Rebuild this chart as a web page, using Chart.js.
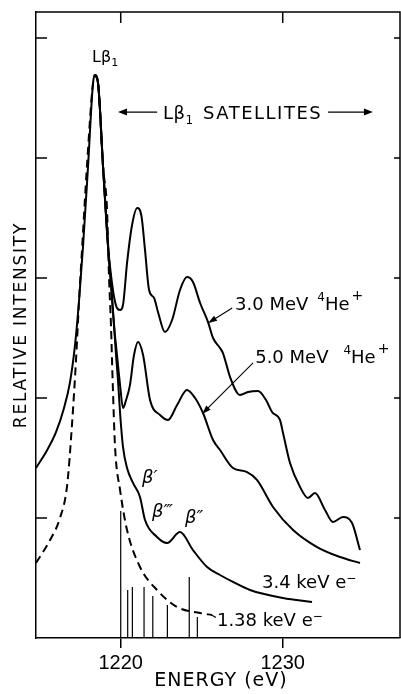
<!DOCTYPE html>
<html><head><meta charset="utf-8">
<script src="https://cdn.jsdelivr.net/npm/chart.js@4.4.1/dist/chart.umd.min.js"></script>
<style>html,body{margin:0;padding:0;background:#fff}</style>
</head><body>
<canvas id="c" width="401" height="694"></canvas>
<script>
// ---- data (energy in eV, relative intensity in arbitrary units) ----
const xTickValues = [1220, 1230];
const yTickValues = [1, 2, 3, 4, 5];

const he3Energy = [1214.77,1215.39,1216.01,1216.50,1216.87,1217.18,1217.43,1217.67,1217.98,1218.29,1218.41,1218.60,1218.91,1219.22,1219.40,1219.59,1219.77,1219.96,1220.14,1220.39,1220.70,1221.02,1221.28,1221.50,1221.75,1222.06,1222.30,1222.73,1223.17,1223.66,1224.09,1224.46,1224.90,1225.39,1225.70,1226.13,1226.31,1226.75,1227.36,1227.86,1228.48,1228.97,1229.34,1229.83,1230.02,1230.45,1231.07,1231.56,1231.99,1232.61,1233.10,1233.72,1234.28,1234.77];
const he3Intensity = [1.417,1.55,1.717,1.917,2.133,2.442,2.817,3.258,3.925,4.625,4.692,4.625,3.925,3.258,3.025,2.842,2.75,2.733,2.775,3.125,3.442,3.583,3.517,3.233,2.9,2.833,2.717,2.55,2.65,2.9,3.008,2.967,2.792,2.633,2.5,2.417,2.375,2.175,2.025,2.05,2.058,1.983,1.883,1.817,1.708,1.458,1.258,1.167,1.208,1.067,0.967,1.008,0.958,0.733];

const he5Energy = [1218.41,1218.60,1218.91,1219.22,1219.40,1219.59,1219.77,1219.96,1220.14,1220.33,1220.57,1220.82,1221.07,1221.38,1221.81,1222.43,1222.92,1223.48,1224.09,1224.59,1225.08,1225.70,1226.13,1226.93,1227.80,1228.41,1229.40,1230.64,1232.12,1233.54,1234.77];
const he5Intensity = [4.692,4.625,3.925,3.258,2.95,2.6,2.358,2.108,1.917,1.983,2.108,2.358,2.467,2.358,1.983,1.858,1.817,1.942,2.067,2.0,1.875,1.65,1.567,1.417,1.383,1.317,1.092,0.9,0.758,0.675,0.625];

const e34Energy = [1218.41,1218.60,1218.91,1219.22,1219.40,1219.59,1219.71,1219.83,1219.96,1220.14,1220.39,1220.76,1221.19,1221.50,1222.24,1222.86,1223.66,1224.46,1225.33,1226.13,1226.93,1227.98,1230.02,1231.81];
const e34Intensity = [4.692,4.625,3.925,3.258,2.95,2.6,2.358,2.15,1.875,1.592,1.417,1.292,1.175,0.983,0.842,0.792,0.883,0.733,0.592,0.525,0.467,0.4,0.333,0.3];

const e138Energy = [1214.77,1215.64,1216.25,1216.69,1216.99,1217.24,1217.43,1217.61,1217.90,1218.29,1218.41,1218.60,1218.91,1219.15,1219.28,1219.40,1219.50,1219.65,1219.96,1220.39,1221.19,1222.24,1223.48,1224.90,1225.64];
const e138Intensity = [0.625,0.817,1.0,1.27,1.775,2.317,2.817,3.233,3.9,4.625,4.692,4.625,3.925,3.583,3.0,2.6,2.15,1.592,1.233,0.9,0.592,0.4,0.258,0.208,0.192];

const lineEnergy = [1220.0,1220.43,1220.72,1221.44,1221.98,1222.88,1224.23,1224.73];
const lineIntensity = [1.058,0.4,0.425,0.425,0.35,0.275,0.508,0.175];

// ---- build datasets ----
const zip = (xs, ys) => xs.map((x, i) => ({x, y: ys[i]}));
const sticks = [];
lineEnergy.forEach((e, i) => { sticks.push({x:e, y:0}, {x:e, y:lineIntensity[i]}, {x:e, y:null}); });

const curve = (data, dash) => ({
  data, borderColor:'#000', borderWidth:2, pointRadius:0, fill:false,
  cubicInterpolationMode:'monotone', borderDash: dash || [], spanGaps:false
});

const FONT = '"DejaVu Sans", sans-serif';

function arrow(ctx, x0, y0, x1, y1, len, half) {
  const a = Math.atan2(y1 - y0, x1 - x0);
  ctx.beginPath(); ctx.moveTo(x0, y0); ctx.lineTo(x1 - Math.cos(a)*len*0.6, y1 - Math.sin(a)*len*0.6); ctx.stroke();
  ctx.beginPath();
  ctx.moveTo(x1, y1);
  ctx.lineTo(x1 - Math.cos(a)*len - Math.sin(a)*half, y1 - Math.sin(a)*len + Math.cos(a)*half);
  ctx.lineTo(x1 - Math.cos(a)*len + Math.sin(a)*half, y1 - Math.sin(a)*len - Math.cos(a)*half);
  ctx.closePath(); ctx.fill();
}

function txt(ctx, s, x, y, size, spacing, style) {
  ctx.font = (style || '') + ' ' + size + 'px ' + FONT;
  ctx.letterSpacing = (spacing || 0) + 'px';
  ctx.fillText(s, x, y);
  return x + ctx.measureText(s).width;
}

const decor = {
  id: 'decor',
  afterDraw(chart) {
    const {ctx, chartArea: a, scales: {x, y}} = chart;
    const X = v => x.getPixelForValue(v), Y = v => y.getPixelForValue(v);
    ctx.save();
    ctx.strokeStyle = '#000'; ctx.fillStyle = '#000'; ctx.lineWidth = 1.5;
    ctx.beginPath();
    ctx.moveTo(a.left, a.top); ctx.lineTo(a.right, a.top); ctx.lineTo(a.right, a.bottom);
    xTickValues.forEach(v => { ctx.moveTo(X(v), a.top); ctx.lineTo(X(v), a.top + 11); });
    yTickValues.forEach(v => {
      ctx.moveTo(a.left, Y(v)); ctx.lineTo(a.left + 11, Y(v));
      ctx.moveTo(a.right, Y(v)); ctx.lineTo(a.right - 6, Y(v));
    });
    ctx.stroke();

    ctx.textBaseline = 'alphabetic'; ctx.textAlign = 'left';
    // axis titles
    ctx.save();
    ctx.translate(26, (a.top + a.bottom) / 2);
    ctx.rotate(-Math.PI / 2);
    ctx.textAlign = 'center';
    txt(ctx, 'RELATIVE INTENSITY', 0, 0, 17, 1.8);
    ctx.restore();
    ctx.textAlign = 'center';
    txt(ctx, 'ENERGY (eV)', (a.left + a.right) / 2 + 3, 686, 19, 1);
    ctx.textAlign = 'left';

    // L beta 1 peak label
    let p = txt(ctx, 'Lβ', X(1218.23), Y(4.8), 16, 0);
    txt(ctx, '1', p, Y(4.8) + 4, 11, 0);

    // satellites label with arrows
    ctx.lineWidth = 1.3;
    arrow(ctx, X(1222.25), Y(4.383), X(1219.83), Y(4.383), 9, 3.5);
    p = txt(ctx, 'Lβ', X(1222.61), Y(4.325), 18, 0.5);
    txt(ctx, '1', p, Y(4.325) + 5, 12, 0);
    txt(ctx, 'SATELLITES', X(1225.08), Y(4.325), 18, 1.5);
    arrow(ctx, X(1232.80), Y(4.383), X(1235.57), Y(4.383), 9, 3.5);

    // 3.0 MeV label
    p = txt(ctx, '3.0 MeV', X(1227.06), Y(2.733), 18, 0);
    p = txt(ctx, '4', p + 9, Y(2.733) - 9, 12, 0);
    p = txt(ctx, 'He', p, Y(2.733), 18, 0);
    txt(ctx, '+', p + 2, Y(2.733) - 10, 14, 0);
    ctx.lineWidth = 1.1;
    arrow(ctx, X(1226.88), Y(2.75), X(1225.39), Y(2.625), 9, 3);

    // 5.0 MeV label
    p = txt(ctx, '5.0 MeV', X(1228.30), Y(2.292), 18, 0);
    p = txt(ctx, '4', p + 15, Y(2.292) - 9, 12, 0);
    p = txt(ctx, 'He', p, Y(2.292), 18, 0);
    txt(ctx, '+', p + 2, Y(2.292) - 10, 14, 0);
    arrow(ctx, X(1228.17), Y(2.292), X(1225.02), Y(1.867), 9, 3);

    // beta satellites
    txt(ctx, 'β′', X(1221.31), Y(1.292), 18, 0, 'italic');
    txt(ctx, 'β‴', X(1221.93), Y(1.008), 18, 0, 'italic');
    txt(ctx, 'β″', X(1223.97), Y(0.958), 18, 0, 'italic');

    // electron labels
    p = txt(ctx, '3.4 keV e', X(1228.72), Y(0.417), 18, 0);
    txt(ctx, '−', p, Y(0.417) - 6, 12, 0);
    p = txt(ctx, '1.38 keV e', X(1225.94), Y(0.1), 18, 0);
    txt(ctx, '−', p, Y(0.1) - 6, 12, 0);
    ctx.lineWidth = 1.2;
    ctx.beginPath(); ctx.moveTo(X(1225.55), Y(0.195)); ctx.lineTo(X(1225.88), Y(0.17)); ctx.stroke();
    ctx.restore();
  }
};

new Chart(document.getElementById('c'), {
  type: 'line',
  data: {
    datasets: [
      curve(zip(he3Energy, he3Intensity)),
      curve(zip(he5Energy, he5Intensity)),
      curve(zip(e34Energy, e34Intensity)),
      curve(zip(e138Energy, e138Intensity), [8, 5]),
      {data: sticks, borderColor:'#000', borderWidth:1.2, pointRadius:0, tension:0, spanGaps:false, fill:false}
    ]
  },
  options: {
    responsive: false, animation: false, devicePixelRatio: 1,
    layout: {padding: {top: 12, right: 1, left: 0, bottom: 0}},
    plugins: {legend: {display: false}, tooltip: {enabled: false}},
    scales: {
      x: {
        type: 'linear', min: 1214.77, max: 1237.24, offset: false,
        afterBuildTicks: s => { s.ticks = xTickValues.map(v => ({value: v})); },
        afterFit: s => { s.height = 56; },
        grid: {drawOnChartArea: false, drawTicks: true, tickLength: 10, color: '#000', lineWidth: 1.5},
        border: {display: true, color: '#000', width: 1.5},
        ticks: {color: '#000', font: {family: '"Liberation Sans", sans-serif', size: 20}, padding: 3, maxRotation: 0,
                callback: v => String(v)}
      },
      y: {
        type: 'linear', min: 0, max: 5.217,
        afterFit: s => { s.width = 36; },
        grid: {display: false},
        border: {display: true, color: '#000', width: 1.5},
        ticks: {display: false}
      }
    }
  },
  plugins: [decor]
});
</script>
</body></html>
